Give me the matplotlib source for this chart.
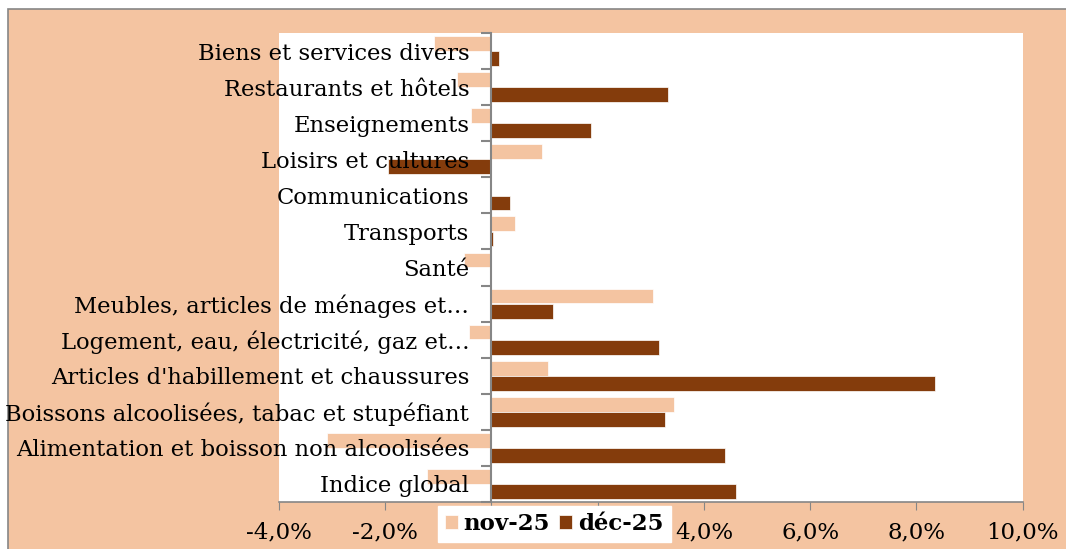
import matplotlib.pyplot as plt
from matplotlib.patches import Rectangle
import numpy as np

categories = [
    "Indice global",
    "Alimentation et boisson non alcoolisées",
    "Boissons alcoolisées, tabac et stupéfiant",
    "Articles d'habillement et chaussures",
    "Logement, eau, électricité, gaz et…",
    "Meubles, articles de ménages et…",
    "Santé",
    "Transports",
    "Communications",
    "Loisirs et cultures",
    "Enseignements",
    "Restaurants et hôtels",
    "Biens et services divers",
]
nov_25 = [-1.22, -3.10, 3.44, 1.07, -0.43, 3.05, -0.52, 0.44, 0.0, 0.96, -0.38, -0.64, -1.08]
dec_25 = [4.60, 4.40, 3.27, 8.35, 3.15, 1.16, 0.0, 0.03, 0.35, -1.94, 1.87, 3.33, 0.14]
x_ticks = [-4, -2, 0, 2, 4, 6, 8, 10]

light = "#F4C4A1"
dark = "#843C0C"
grey = "#868686"
font = "DejaVu Serif"


def main():
    fig = plt.figure(figsize=(10.66, 5.49), dpi=100)
    fig.patch.set_facecolor("white")
    fig.patches.append(Rectangle((8 / 1066, -0.01), 1.0, 1 - 9 / 549 + 0.01,
                                 transform=fig.transFigure, facecolor=light,
                                 edgecolor=grey, linewidth=1.2, zorder=-5))

    ax = fig.add_axes([0.2617, 0.0856, 0.9593 - 0.2617, 0.9399 - 0.0856])
    ax.set_facecolor("white")

    # spine position first: moving it resets the ticks
    ax.spines["left"].set_position(("data", 0))
    ax.spines["left"].set_color(grey)
    ax.spines["left"].set_linewidth(1.5)
    ax.spines["left"].set_zorder(3)
    ax.spines["bottom"].set_color(grey)
    ax.spines["bottom"].set_linewidth(1.2)
    ax.spines["top"].set_visible(False)
    ax.spines["right"].set_visible(False)

    # bars under the category labels, like the original
    y = np.arange(len(categories))
    h = 0.41
    ax.barh(y + 0.21, nov_25, height=h, color=light, edgecolor="white",
            linewidth=0.5, label="nov-25", zorder=1)
    ax.barh(y - 0.21, dec_25, height=h, color=dark, edgecolor="white",
            linewidth=0.5, label="déc-25", zorder=1)

    ax.set_xlim(-4, 10)
    ax.set_ylim(-0.5, len(categories) - 0.5)

    ax.set_xticks(x_ticks)
    ax.set_xticklabels([f"{v:.1f}%".replace(".", ",") for v in x_ticks],
                       fontfamily=font, fontsize=16.5)
    ax.tick_params(axis="x", direction="out", length=6, color=grey, pad=8)

    ax.set_yticks(y)
    ax.set_yticklabels(categories, fontfamily=font, fontsize=16.3)
    ax.set_yticks(np.arange(-0.5, len(categories)), minor=True)
    ax.tick_params(axis="y", which="major", length=0, pad=16)
    ax.tick_params(axis="y", which="minor", direction="out", length=7,
                   color=grey, width=1.5)

    leg = fig.legend(loc="center", bbox_to_anchor=(0.520, 0.0455), ncol=2,
                     frameon=True, fancybox=False, framealpha=1,
                     edgecolor="white", facecolor="white",
                     handlelength=0.57, handleheight=0.57, handletextpad=0.25,
                     columnspacing=0.4, borderpad=0.3, borderaxespad=0,
                     prop={"family": font, "weight": "bold", "size": 16.5})
    leg.set_zorder(10)

    fig.savefig("out.png", dpi=100)


if __name__ == "__main__":
    main()
